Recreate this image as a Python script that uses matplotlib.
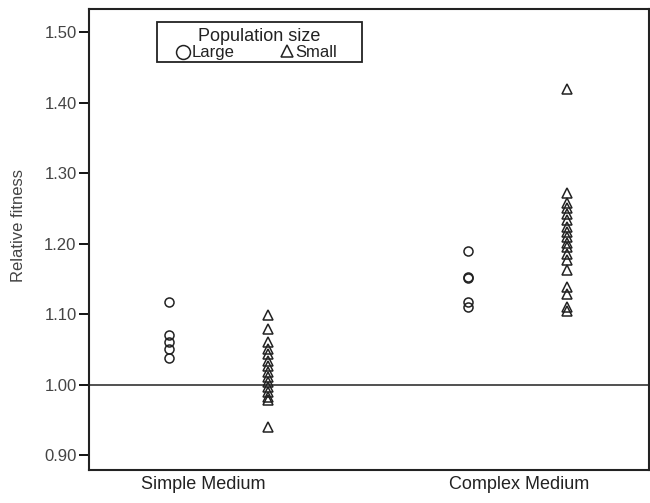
import numpy as np
import matplotlib.pyplot as plt
from matplotlib.patches import Rectangle

plt.rcParams['font.family'] = ['Liberation Sans', 'DejaVu Sans']

categories = ['Simple Medium', 'Complex Medium']
cat_pos = [0, 1]
group_offset = {'Large': -0.165, 'Small': 0.165}

simple_large = [1.117, 1.07, 1.06, 1.05, 1.038]
simple_small = [1.099, 1.079, 1.060, 1.050, 1.043, 1.033, 1.026, 1.018, 1.011,
                1.004, 0.997, 0.990, 0.983, 0.979, 0.940]
complex_large = [1.19, 1.153, 1.151, 1.118, 1.11]
complex_small = [1.42, 1.272, 1.258, 1.25, 1.242, 1.234, 1.224, 1.216, 1.209,
                 1.201, 1.195, 1.185, 1.177, 1.163, 1.138, 1.128, 1.11, 1.105]

yticks = [0.90, 1.00, 1.10, 1.20, 1.30, 1.40, 1.50]

fig = plt.figure(figsize=(6.5, 5.03), dpi=100)
ax = fig.add_axes([0.137, 0.0656, 0.8615, 0.9165])

ink = '#222222'
mk = dict(linestyle='none', markerfacecolor='none', markeredgecolor=ink,
          markeredgewidth=1.1, markersize=6.5)

ax.plot([cat_pos[0] + group_offset['Large']] * len(simple_large), simple_large, 'o', **mk)
ax.plot([cat_pos[0] + group_offset['Small']] * len(simple_small), simple_small, '^', **mk)
ax.plot([cat_pos[1] + group_offset['Large']] * len(complex_large), complex_large, 'o', **mk)
ax.plot([cat_pos[1] + group_offset['Small']] * len(complex_small), complex_small, '^', **mk)

ax.axhline(1.0, color=ink, linewidth=1.1)

ax.set_xlim(-0.43, 1.437)
ax.set_ylim(0.879, 1.533)
ax.set_yticks(yticks)
ax.set_yticklabels([f'{v:.2f}' for v in yticks], fontsize=12, color='#444444')
# labels sit a little off the cluster centres, as in the original
ax.set_xticks([-0.05, 1.005])
ax.set_xticklabels(categories, fontsize=13, color=ink)
ax.tick_params(axis='x', length=0, pad=4)
ax.tick_params(axis='y', length=7, width=1.3, direction='out', pad=2)
ax.set_ylabel('Relative fitness', fontsize=12, color='#444444')
ax.yaxis.set_label_coords(-0.112, 0.53)

for s in ax.spines.values():
    s.set_linewidth(1.5)
    s.set_color(ink)

# legend box drawn by hand (wide, with centred title)
tr = ax.transAxes
ax.add_patch(Rectangle((0.121, 0.885), 0.366, 0.087, transform=tr, fill=False,
                       edgecolor=ink, linewidth=1.3, zorder=5))
ax.text(0.304, 0.940, 'Population size', transform=tr, ha='center', va='center',
        fontsize=13, color=ink, zorder=6)
ax.plot([0.168], [0.906], 'o', transform=tr, **{**mk, 'markersize': 10}, zorder=6)
ax.text(0.183, 0.906, 'Large', transform=tr, ha='left', va='center',
        fontsize=12, color=ink, zorder=6)
ax.plot([0.354], [0.908], '^', transform=tr, **{**mk, 'markersize': 8}, zorder=6)
ax.text(0.369, 0.906, 'Small', transform=tr, ha='left', va='center',
        fontsize=12, color=ink, zorder=6)

fig.savefig('out.png', dpi=100)
